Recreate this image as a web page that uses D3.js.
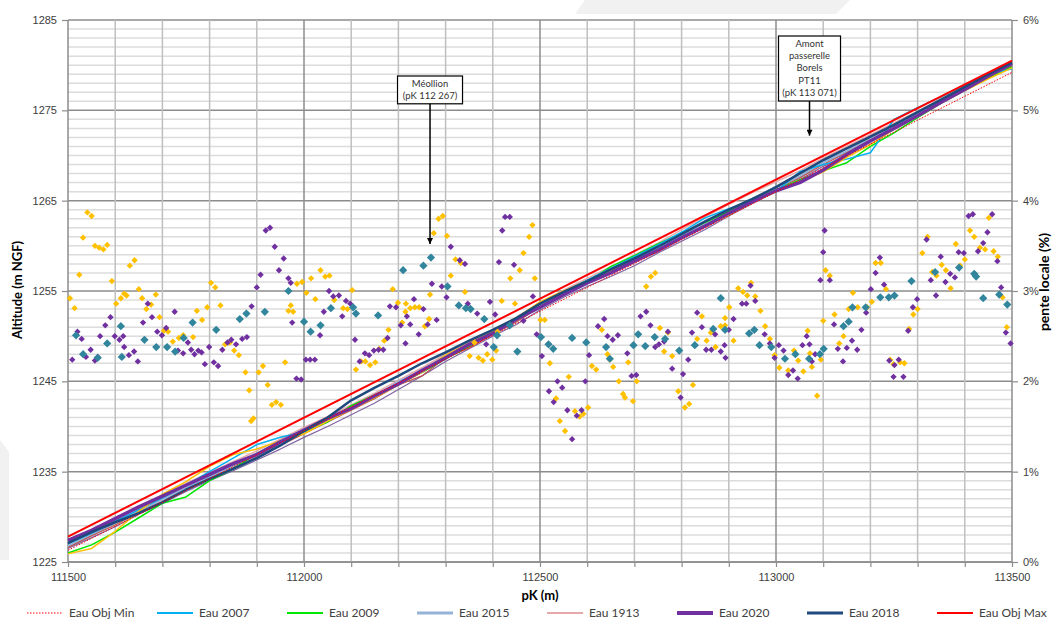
<!DOCTYPE html>
<html>
<head>
<meta charset="utf-8">
<script src="https://cdn.jsdelivr.net/npm/d3@7/dist/d3.min.js"></script>
<style>
  body { margin: 0; background: #fff; }
  svg { display: block; font-family: Lato, "Open Sans", sans-serif; }
</style>
</head>
<body>
<svg id="chart" width="1055" height="635"></svg>
<script>
// pK stations (m) for the water lines
const pk = [111500,111550,111600,111650,111700,111750,111800,111850,111900,111950,
  112000,112050,112100,112150,112200,112250,112300,112350,112400,112450,
  112500,112550,112600,112650,112700,112750,112800,112850,112900,112950,
  113000,113050,113100,113150,113200,113250,113300,113350,113400,113450,113500];

// altitudes (m NGF)
const eau2015 = [1226.7,1228.0,1229.4,1230.6,1232.0,1233.1,1234.5,1235.5,1236.9,1238.0,1239.5,1240.6,1242.1,1243.2,1244.9,1246.1,1247.8,1248.9,1250.5,1251.7,1253.5,1254.7,1256.1,1257.1,1258.5,1259.6,1261.2,1262.4,1263.9,1265.0,1266.5,1267.6,1269.3,1270.4,1272.0,1273.2,1274.7,1276.0,1277.5,1278.7,1280.0];
const eau1913 = [1227.1,1228.5,1229.8,1231.1,1232.4,1233.7,1234.9,1236.1,1237.3,1238.6,1239.9,1241.1,1242.4,1243.7,1245.1,1246.5,1248.0,1249.3,1250.7,1252.1,1253.7,1255.1,1256.4,1257.7,1259.0,1260.3,1261.8,1263.2,1264.6,1265.9,1267.1,1268.3,1269.7,1271.0,1272.3,1273.6,1274.9,1276.3,1277.6,1278.9,1280.2];
const eau2008 = [1226.5,1227.7,1228.9,1230.3,1231.5,1232.8,1234.0,1235.1,1236.3,1237.5,1238.8,1240.0,1241.3,1242.6,1244.1,1245.6,1247.2,1248.6,1250.0,1251.3,1252.9,1254.3,1255.5,1256.6,1257.8,1259.2,1260.5,1261.8,1263.3,1264.7,1266.0,1267.3,1268.8,1270.1,1271.6,1273.0,1274.4,1275.9,1277.2,1278.6,1279.9];
const eau2006 = [1226.6,1227.9,1229.1,1230.5,1231.7,1233.0,1234.2,1235.4,1236.6,1237.9,1239.2,1240.5,1241.8,1243.1,1244.6,1245.6,1247.6,1248.7,1250.2,1251.6,1253.2,1254.6,1255.8,1257.0,1258.2,1259.5,1260.9,1262.3,1263.6,1264.9,1266.2,1267.5,1269.0,1270.3,1271.7,1273.1,1274.4,1275.9,1277.2,1278.6,1279.9];
const eau2009 = [1226.0,1226.9,1228.3,1229.9,1231.5,1232.2,1234.0,1235.3,1237.0,1238.4,1239.4,1240.5,1242.3,1243.5,1244.7,1246.0,1247.5,1248.9,1250.4,1251.9,1253.3,1254.6,1256.0,1257.7,1258.9,1260.2,1261.4,1262.6,1263.8,1265.0,1266.2,1267.3,1268.3,1269.2,1271.0,1272.5,1274.2,1275.8,1277.2,1278.6,1279.8];
const eau2007 = [1227.0,1228.2,1229.5,1230.8,1232.1,1233.5,1235.0,1236.5,1238.0,1238.8,1239.4,1240.8,1242.0,1243.4,1244.8,1246.3,1247.6,1249.0,1250.6,1252.0,1253.6,1254.9,1256.2,1257.5,1258.8,1260.1,1261.5,1263.1,1264.1,1265.0,1266.0,1268.2,1269.0,1269.6,1270.3,1274.0,1275.3,1276.5,1277.8,1279.0,1279.6];
const eau2005 = [1225.9,1226.5,1228.4,1230.6,1232.5,1233.9,1235.6,1236.9,1237.5,1238.4,1239.2,1240.6,1241.9,1243.2,1244.6,1246.0,1247.9,1249.2,1250.5,1252.0,1253.8,1255.0,1256.1,1257.3,1258.3,1259.5,1260.9,1262.2,1263.4,1264.8,1266.0,1267.1,1268.2,1269.8,1271.2,1272.9,1274.3,1275.8,1277.2,1278.5,1279.7];
const eau2020 = [1227.4,1228.5,1229.8,1231.1,1232.3,1233.5,1234.7,1235.9,1236.9,1238.3,1239.6,1240.9,1242.0,1243.4,1244.7,1246.2,1247.6,1249.1,1250.3,1251.9,1253.2,1254.6,1255.9,1257.0,1258.3,1259.5,1260.9,1262.2,1263.6,1264.9,1266.1,1267.0,1268.4,1270.1,1271.6,1273.0,1274.4,1275.9,1277.3,1278.8,1280.2];
const eau2018 = [1227.1,1228.3,1229.4,1230.4,1231.6,1233.0,1234.2,1235.3,1236.5,1237.9,1239.5,1241.0,1242.9,1244.3,1245.6,1247.0,1248.2,1249.5,1250.7,1252.0,1253.6,1254.9,1256.1,1257.4,1258.6,1259.9,1261.3,1262.7,1264.0,1265.2,1266.5,1268.0,1269.5,1270.8,1272.1,1273.4,1274.8,1276.2,1277.6,1279.0,1280.3];
const objPk = [111500, 113500];
const objMin = [1226.3, 1279.2];
const objMax = [1227.8, 1280.5];

// local slope points: [pK, pente %]
const pente2021 = [[111541,3.87],[111550,3.83],[111532,3.59],[111524,3.18],[111504,2.92],[111514,2.81],[111557,3.50],[111566,3.48],[111575,3.46],[111583,3.51],[111593,3.11],[111602,2.86],[111612,2.92],[111619,2.97],[111624,2.95],[111631,3.28],[111641,3.34],[111650,3.02],[111657,2.92],[111666,2.80],[111676,2.85],[111686,2.96],[111694,2.71],[111703,2.56],[111712,2.55],[111722,2.44],[111735,2.48],[111744,2.51],[111765,2.49],[111773,2.78],[111784,2.68],[111795,2.82],[111803,3.09],[111812,3.04],[111823,2.84],[111833,2.41],[111843,2.43],[111852,2.34],[111862,2.29],[111876,2.10],[111884,1.90],[111888,1.56],[111893,1.59],[111904,2.10],[111913,2.17],[111923,1.96],[111932,1.74],[111941,1.77],[111951,1.74],[111960,2.21],[111967,2.78],[111972,2.84],[111977,2.77],[111985,3.08],[111996,3.10],[112005,2.98],[112015,3.14],[112024,2.91],[112035,3.23],[112045,3.16],[112054,3.17],[112064,2.90],[112083,2.81],[112092,2.80],[112102,3.01],[112110,2.13],[112121,2.22],[112130,2.22],[112140,2.18],[112151,2.21],[112160,2.36],[112170,2.45],[112179,2.57],
  [112285,3.80],[112294,3.83],[112275,3.64],[112303,3.61],[112321,3.35],[112332,3.31],[112311,3.17],[112341,2.99],[112267,2.96],[112188,3.02],[112199,2.87],[112216,2.86],[112225,2.81],[112235,2.82],[112244,2.82],[112215,2.77],[112208,2.65],[112265,2.69],[112256,2.61],[112419,2.89],[112447,2.86],[112437,3.14],[112457,3.23],[112465,3.42],[112477,3.60],[112484,3.73],[112489,3.14],[112351,2.28],[112370,2.26],[112379,2.23],[112388,2.30],[112399,2.24],[112407,2.34],[112361,2.43],[112410,2.55],[112501,2.68],[112510,2.68],[112521,2.20],[112561,2.05],[112610,2.17],[112619,2.13],[112648,2.24],[112643,2.30],[112631,2.57],[112655,2.16],[112667,2.00],[112676,1.86],[112687,2.21],[112697,1.78],[112705,2.00],[112725,3.05],[112735,3.16],[112744,3.20],[112754,2.59],[112763,2.33],[112771,2.54],[112780,2.28],[112793,1.89],[112807,1.71],[112816,1.75],[112824,1.96],[112833,2.47],[112843,2.72],[112853,2.45],
  [112534,1.81],[112542,1.56],[112553,1.45],[112574,1.67],[112584,1.61],[112592,1.64],[112602,1.71],[112680,1.82],
  [112872,2.38],[112862,2.54],[112883,2.61],[112892,2.70],[112892,2.62],[112901,2.82],[112910,2.45],[112920,3.03],[112930,2.99],[112939,2.95],[112947,3.09],[112956,2.94],[112967,2.78],[112977,2.61],[112987,2.47],[112997,2.29],[113007,2.15],[113026,2.12],[113038,2.34],[113047,2.23],[113058,2.11],[113067,2.56],[113072,2.31],[113076,2.16],[113087,1.84],[113095,2.24],[113100,2.67],[113105,3.23],[113114,3.17],[113124,2.74],[113134,2.42],[113143,2.50],[113154,2.80],[113163,2.98],[113173,2.82],[113193,2.82],[113203,2.88],[113211,3.31],[113222,3.31],[113233,3.02],[113242,2.24],[113249,2.19],[113263,2.21],[113272,2.20],[113282,2.58],[113291,2.74],[113300,2.80],[113310,3.42],[113321,3.60],[113331,3.21],[113340,3.17],[113351,3.29],[113360,3.23],[113370,3.03],[113381,3.52],[113390,3.28],[113400,3.35],[113411,3.67],[113420,3.60],[113432,3.48],[113443,3.46],[113451,3.81],[113461,3.44],[113470,3.38],[113480,2.93],[113489,2.60]];

const pente2020 = [[111509,2.24],[111520,2.55],[111529,2.47],[111538,2.27],[111548,2.35],[111557,2.23],[111563,2.27],[111568,2.50],[111579,2.62],[111590,2.71],[111599,2.50],[111609,2.46],[111617,2.50],[111619,2.38],[111629,2.29],[111640,2.33],[111648,2.22],[111659,2.65],[111669,2.86],[111678,2.71],[111689,2.55],[111699,2.51],[111708,2.59],[111726,2.77],[111733,2.34],[111744,2.31],[111754,2.43],[111761,2.35],[111768,2.30],[111776,2.34],[111783,2.32],[111790,2.19],[111799,2.38],[111809,2.21],[111818,2.17],[111827,2.35],[111838,2.43],[111846,2.46],[111856,2.41],[111869,2.47],[111879,2.49],[111889,2.83],[111900,3.04],[111908,3.18],[111919,3.67],[111928,3.70],[111938,3.49],[111947,3.23],[111957,3.36],[111967,3.14],[111972,3.09],[111975,2.65],[111984,2.03],[111994,2.02],[112004,2.24],[112013,2.24],[112023,2.24],[112034,2.51],[112042,2.77],[112053,3.00],[112062,2.94],[112074,2.95],[112081,2.72],[112089,2.89],[112098,2.86],[112108,2.46],[112118,2.22],[112129,2.31],[112138,2.29],[112148,2.34],[112158,2.35],[112168,2.35],[112182,2.83],
  [112311,3.49],[112330,3.34],[112341,3.30],[112271,3.08],[112292,3.05],[112302,2.93],[112233,2.91],[112253,2.80],[112218,2.72],[112225,2.63],[112205,2.62],[112281,2.68],[112262,2.63],[112243,2.52],[112215,2.42],[112177,2.48],[112195,2.82],[112347,2.86],[112352,2.81],[112367,2.75],[112394,2.88],[112405,2.74],[112386,2.41],[112426,3.82],[112436,3.82],[112420,3.67],[112413,3.32],[112445,3.29],[112465,2.67],[112485,2.94],[112493,2.52],[112504,2.28],[112537,2.00],[112547,1.93],[112519,1.89],[112529,1.77],[112558,1.68],[112568,1.36],[112578,1.62],[112588,1.68],[112798,1.82],
  [112596,2.00],[112604,2.29],[112623,2.61],[112636,2.69],[112643,2.50],[112654,2.46],[112665,2.51],[112685,2.31],[112694,2.06],[112704,2.07],[112713,2.72],[112725,2.77],[112734,2.62],[112744,2.38],[112752,2.41],[112763,2.44],[112771,2.55],[112780,2.14],[112803,2.08],[112814,2.24],[112822,2.54],[112833,2.76],[112843,2.60],[112852,2.35],
  [112863,2.35],[112871,2.52],[112883,2.33],[112891,2.40],[112893,2.26],[112900,2.57],[112910,2.69],[112928,2.86],[112937,2.86],[112946,3.06],[112956,2.89],[112976,2.52],[112987,2.42],[112997,2.26],[113006,2.40],[113016,2.34],[113026,2.07],[113036,2.12],[113046,2.03],[113056,2.40],[113065,2.50],[113071,2.41],[113076,2.22],[113083,2.30],[113094,3.12],[113100,3.43],[113103,3.67],[113114,3.12],[113123,2.63],[113131,2.36],[113142,2.22],[113150,2.37],[113161,2.45],[113172,2.35],[113181,2.57],[113191,2.76],[113201,3.02],[113211,3.20],[113220,3.37],[113229,3.07],[113240,2.23],[113251,2.18],[113249,2.05],[113260,2.24],[113270,2.05],[113280,2.56],[113290,2.82],[113299,2.91],[113319,3.57],[113328,3.12],[113339,2.95],[113349,3.38],[113359,3.10],[113369,3.19],[113379,3.15],[113387,3.43],[113398,3.42],[113408,3.83],[113417,3.85],[113428,3.44],[113439,3.53],[113448,3.65],[113458,3.85],[113469,3.33],[113477,3.04],[113487,2.54],[113497,2.42]];

const pente2015 = [[111517,2.51],[111532,2.30],[111563,2.26],[111583,2.42],[111612,2.61],[111614,2.27],[111662,2.46],[111687,2.38],[111710,2.38],[111727,2.33],[111745,2.48],[111764,2.65],[111814,2.57],[111864,2.69],[111878,2.75],[111917,2.77],[111967,3.00],[112000,2.66],[112014,2.55],[112035,2.62],[112057,2.81],[112104,2.82],[112110,2.75],[112157,2.73],
  [112210,3.23],[112253,3.28],[112269,3.37],[112304,3.05],[112328,2.84],[112343,2.81],[112353,2.80],[112382,2.69],[112409,2.51],[112402,2.38],[112452,2.33],[112436,2.62],[112502,2.49],[112518,2.41],[112528,2.36],[112568,2.48],[112598,2.43],[112648,2.25],[112640,2.38],[112698,2.40],[112708,2.52],[112723,2.39],[112743,2.49],[112765,2.47],[112795,2.34],[112828,2.40],
  [112883,2.92],[112867,2.58],[112892,2.57],[112943,2.53],[112954,2.57],[112965,2.40],[112990,2.38],[113019,2.25],[113041,2.30],[113070,2.25],[113093,2.30],[113101,2.36],[113143,2.61],[113154,2.66],[113162,2.82],[113190,2.82],[113221,2.93],[113239,2.93],[113251,2.95],[113287,3.11],[113337,3.21],[113388,3.26],[113420,3.19],[113424,3.16],[113439,2.92],[113473,2.96],[113490,2.85]];

const altTicks = [1225,1235,1245,1255,1265,1275,1285];
const penteTicks = [0,1,2,3,4,5,6];
const pkTicks = [111500,112000,112500,113000,113500];

const annotations = [
  { pk: 112267, tip: 1260.2, lines: ["Méollion", "(pK 112 267)"], top: 76, w: 65 },
  { pk: 113071, tip: 1272.2, lines: ["Amont", "passerelle", "Borels", "PT11", "(pK 113 071)"], top: 36, w: 62 }
];

const svg = d3.select("#chart");
const x = d3.scaleLinear().domain([111500, 113500]).range([68, 1012]);
const y = d3.scaleLinear().domain([1225, 1285]).range([562, 20]);
const y2 = d3.scaleLinear().domain([0, 6]).range([562, 20]);

// faint background shapes
svg.append("polygon").attr("points", "585,0 850,0 836,14 575,14").attr("fill", "#f1f1f1");
svg.append("polygon").attr("points", "0,440 9,452 9,560 0,560").attr("fill", "#f1f1f1");

// grid
const grid = svg.append("g");
grid.selectAll(".hmin").data(d3.range(1225, 1286)).enter().append("line")
  .attr("x1", 68).attr("x2", 1012)
  .attr("y1", d => y(d)).attr("y2", d => y(d))
  .attr("stroke", d => d % 10 === 5 ? "#8c8c8c" : "#dcdcdc")
  .attr("stroke-width", d => d % 10 === 5 ? 1.5 : 1.5);
grid.selectAll(".vg").data(d3.range(111600, 113500, 100)).enter().append("line")
  .attr("x1", d => x(d)).attr("x2", d => x(d))
  .attr("y1", 20).attr("y2", 562)
  .attr("stroke", d => d % 500 === 0 ? "#8c8c8c" : "#bfbfbf")
  .attr("stroke-width", 1.5);
// axis lines
svg.append("line").attr("x1", 68).attr("x2", 68).attr("y1", 20).attr("y2", 562).attr("stroke", "#8c8c8c").attr("stroke-width", 1.5);
svg.append("line").attr("x1", 1012).attr("x2", 1012).attr("y1", 20).attr("y2", 562).attr("stroke", "#8c8c8c").attr("stroke-width", 1.5);
svg.append("line").attr("x1", 68).attr("x2", 1012).attr("y1", 562).attr("y2", 562).attr("stroke", "#8c8c8c").attr("stroke-width", 1.5);

function styleAxis(g) {
  g.select(".domain").remove();
  g.selectAll(".tick line").attr("stroke", "#8c8c8c").attr("stroke-width", 1.2);
  g.selectAll(".tick text").attr("fill", "#404040").style("font-size", "11px");
}

svg.append("g").attr("transform", "translate(68,0)")
  .call(d3.axisLeft(y).tickValues(altTicks).tickFormat(d3.format("d")).tickSize(6).tickPadding(5))
  .call(styleAxis);
svg.append("g").attr("transform", "translate(1012,0)")
  .call(d3.axisRight(y2).tickValues(penteTicks).tickFormat(d => d + "%").tickSize(6).tickPadding(5))
  .call(styleAxis);
const xAxis = svg.append("g").attr("transform", "translate(0,562)")
  .call(d3.axisBottom(x).tickValues(d3.range(111500, 113501, 100)).tickSize(5).tickPadding(6)
    .tickFormat(d => pkTicks.includes(d) ? d : ""))
  .call(styleAxis);

// axis titles
svg.append("text").attr("transform", "translate(22,290) rotate(-90)")
  .attr("text-anchor", "middle").style("font-size", "13px").style("font-weight", "bold").attr("fill", "#000")
  .text("Altitude (m NGF)");
svg.append("text").attr("transform", "translate(1049,282) rotate(-90)")
  .attr("text-anchor", "middle").style("font-size", "14px").style("font-weight", "bold").attr("fill", "#000")
  .text("pente locale (%)");
svg.append("text").attr("x", 540).attr("y", 600)
  .attr("text-anchor", "middle").style("font-size", "13px").style("font-weight", "bold").attr("fill", "#000")
  .text("pK (m)");

// water lines
const lineSeries = [
  { name: "Eau 1913", values: eau1913, color: "#e6a9a9", width: 1.5 },
  { name: "Eau 2015", values: eau2015, color: "#95b3d7", width: 3 },
  { name: "Eau 2008", values: eau2008, color: "#8064a2", width: 1.2 },
  { name: "Eau 2006", values: eau2006, color: "#c0504d", width: 1.2 },
  { name: "Eau 2009", values: eau2009, color: "#00e600", width: 1.5 },
  { name: "Eau 2007", values: eau2007, color: "#00b0f0", width: 1.5 },
  { name: "Eau 2005", values: eau2005, color: "#ffc000", width: 1.5 },
  { name: "Eau 2020", values: eau2020, color: "#7030a0", width: 3.5 },
  { name: "Eau 2018", values: eau2018, color: "#1f497d", width: 2.5 }
];
const line = d3.line().x(d => x(d[0])).y(d => y(d[1]));
const linesG = svg.append("g").attr("fill", "none").attr("stroke-linejoin", "round");
lineSeries.forEach(s => {
  linesG.append("path").datum(pk.map((p, i) => [p, s.values[i]]))
    .attr("d", line).attr("stroke", s.color).attr("stroke-width", s.width);
});
linesG.append("path").datum(objPk.map((p, i) => [p, objMin[i]]))
  .attr("d", line).attr("stroke", "#ff0000").attr("stroke-width", 1).attr("stroke-dasharray", "1.5,1.5");
linesG.append("path").datum(objPk.map((p, i) => [p, objMax[i]]))
  .attr("d", line).attr("stroke", "#ff0000").attr("stroke-width", 2);

// slope points
const pointSeries = [
  { name: "Pente 2021", data: pente2021, color: "#ffc000", size: 20 },
  { name: "Pente 2020", data: pente2020, color: "#7030a0", size: 20 },
  { name: "Pente 2015", data: pente2015, color: "#31859c", size: 34 }
];
pointSeries.forEach(s => {
  const sym = d3.symbol(d3.symbolSquare, s.size);
  svg.append("g").selectAll("path").data(s.data).enter().append("path")
    .attr("d", sym)
    .attr("transform", d => `translate(${x(d[0])},${y2(d[1])}) rotate(45)`)
    .attr("fill", s.color);
});

// annotations
svg.append("defs").append("marker")
  .attr("id", "arrow").attr("viewBox", "0 0 10 10").attr("refX", 10).attr("refY", 5)
  .attr("markerWidth", 5).attr("markerHeight", 4).attr("orient", "auto")
  .append("path").attr("d", "M0,0 L10,5 L0,10 Z").attr("fill", "#000");
annotations.forEach(a => {
  const ax = x(a.pk);
  const h = a.lines.length * 12.4 + 3;
  const g = svg.append("g");
  g.append("rect").attr("x", ax - a.w / 2).attr("y", a.top).attr("width", a.w).attr("height", h)
    .attr("fill", "#fff").attr("stroke", "#000").attr("stroke-width", 1.2);
  a.lines.forEach((t, i) => {
    g.append("text").attr("x", ax).attr("y", a.top + 10.5 + i * 12.4)
      .attr("text-anchor", "middle").style("font-size", "9.5px").attr("fill", "#333").text(t);
  });
  g.append("line").attr("x1", ax).attr("x2", ax).attr("y1", a.top + h).attr("y2", y(a.tip))
    .attr("stroke", "#000").attr("stroke-width", 1.5).attr("marker-end", "url(#arrow)");
});

// legend
const legendItems = [
  { name: "Eau Obj Min", color: "#ff0000", width: 1, dash: "1.5,1.5" },
  { name: "Eau 2007", color: "#00b0f0", width: 2 },
  { name: "Eau 2009", color: "#00e600", width: 2 },
  { name: "Eau 2015", color: "#95b3d7", width: 3 },
  { name: "Eau 1913", color: "#e6a9a9", width: 2 },
  { name: "Eau 2020", color: "#7030a0", width: 4 },
  { name: "Eau 2018", color: "#1f497d", width: 3 },
  { name: "Eau Obj Max", color: "#ff0000", width: 2 },
  { name: "Eau 2005", color: "#ffc000", width: 2 },
  { name: "Eau 2006", color: "#c0504d", width: 1.5 },
  { name: "Eau 2008", color: "#8064a2", width: 1.5 },
  { name: "Eau 2013", color: "#a6a6a6", width: 1.5 },
  { name: "Eau 2021", color: "#f79646", width: 1.5 },
  { name: "Pente 2015", color: "#31859c", marker: true },
  { name: "Pente 2020", color: "#7030a0", marker: true },
  { name: "Pente 2021", color: "#ffc000", marker: true }
];
const legend = svg.append("g");
legendItems.forEach((it, i) => {
  const col = i % 8, row = Math.floor(i / 8);
  const lx = 27 + col * 130, ly = 613 + row * 26;
  const g = legend.append("g").attr("transform", `translate(${lx},${ly})`);
  if (it.marker) {
    g.append("path").attr("d", d3.symbol(d3.symbolSquare, 20)).attr("transform", "translate(18,0) rotate(45)").attr("fill", it.color);
  } else {
    g.append("line").attr("x1", 0).attr("x2", 36).attr("y1", 0).attr("y2", 0)
      .attr("stroke", it.color).attr("stroke-width", it.width).attr("stroke-dasharray", it.dash || null);
  }
  g.append("text").attr("x", 42).attr("y", 0).attr("dy", "0.35em")
    .style("font-size", "12px").attr("fill", "#404040").text(it.name);
});
</script>
</body>
</html>
